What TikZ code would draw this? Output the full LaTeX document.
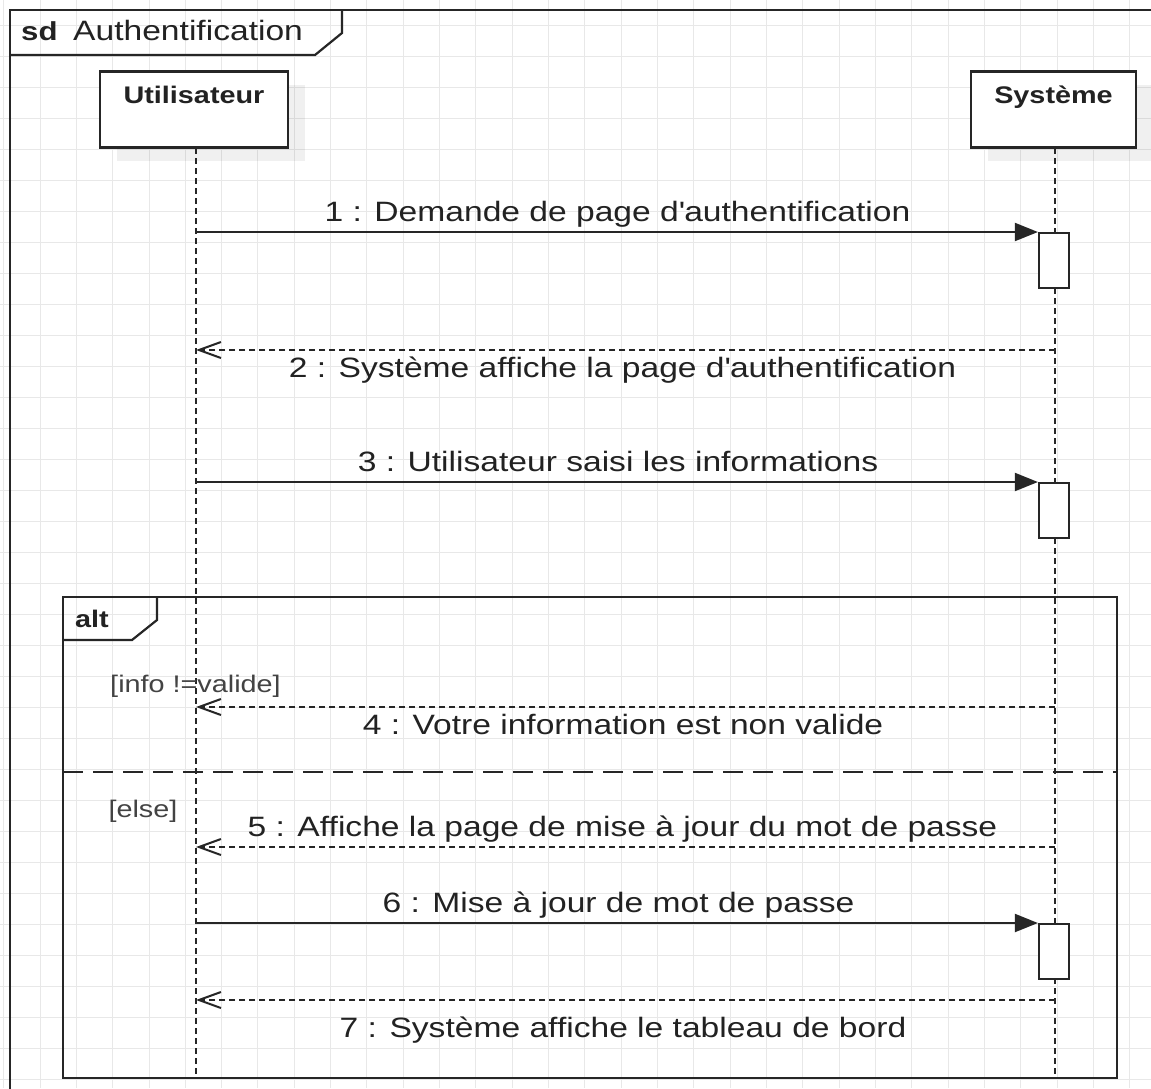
\documentclass[tikz,border=0pt]{standalone}
\usepackage{fontspec}
\setmainfont{Liberation Sans}[FakeStretch=1.2]
\usetikzlibrary{arrows.meta,shadows}
\definecolor{gridc}{HTML}{E8E8E8}
\definecolor{ink}{HTML}{222222}
\definecolor{linec}{HTML}{262626}
\tikzset{
  gridline/.style={draw=gridc, line width=0.9pt},
  frameline/.style={draw=linec, line width=2.2pt},
  participant/.style={draw=linec, line width=2.2pt, fill=white, minimum height=76pt, inner sep=0pt,
    drop shadow={shadow xshift=17pt, shadow yshift=-13pt, fill=black, opacity=0.06}},
  pname/.style={font=\fontsize{24}{28}\selectfont\bfseries, text=ink, anchor=base, inner sep=0pt},
  activation/.style={draw=linec, line width=2.2pt, fill=white, minimum width=30pt, minimum height=55pt, inner sep=0pt, anchor=north},
  lifeline/.style={draw=linec, line width=2.4pt, dash pattern=on 6pt off 4pt},
  syncmsg/.style={draw=linec, line width=2pt, -{Triangle[length=23pt, width=18pt]}},
  replymsg/.style={draw=linec, line width=2pt, dash pattern=on 6pt off 4pt, -{Straight Barb[length=22pt, width=16pt, line width=2pt]}},
  msgtext/.style={font=\fontsize{28}{32}\selectfont, text=ink, anchor=base, inner sep=0pt},
  guardtext/.style={font=\fontsize{24}{28}\selectfont, text=ink!85, anchor=base, inner sep=0pt},
  separator/.style={draw=linec, line width=2.2pt, dash pattern=on 20pt off 10pt},
}
\begin{document}
\begin{tikzpicture}[x=1pt,y=-1pt]
\useasboundingbox (0,0) rectangle (1151,1088);
\clip (0,0) rectangle (1151,1088);
\fill[white] (0,0) rectangle (1151,1088);
% grid
\foreach \i in {0,...,32} \draw[gridline] (3.7+\i*36.32,0) -- (3.7+\i*36.32,1088);
\foreach \j in {-1,...,35} \draw[gridline] (0,25+\j*31) -- (1151,25+\j*31);
% outer sd frame
\draw[frameline] (10,1120) -- (10,10) -- (1200,10);
\draw[frameline] (10,55) -- (315,55) -- (342,33) -- (342,10);
\node[font=\fontsize{26}{30}\selectfont\bfseries, text=ink, anchor=base west, inner sep=0pt] (sdkw) at (21,40) {sd};
\node[font=\fontsize{28}{32}\selectfont, text=ink, anchor=base west, inner sep=0pt] (sdname) at (73,40) {Authentification};
% participants
\node[participant, minimum width=188pt] (u) at (194,109.5) {};
\node[pname] (uname) at (194,103) {Utilisateur};
\node[participant, minimum width=165pt] (s) at (1053.5,109.5) {};
\node[pname] (sname) at (1053.5,103) {Système};
% alt frame
\draw[frameline] (63,597) rectangle (1117,1078);
\draw[frameline] (63,640) -- (132,640) -- (157,620) -- (157,597);
\node[font=\fontsize{24}{28}\selectfont\bfseries, text=ink, anchor=base west, inner sep=0pt] (altkw) at (75,627) {alt};
\draw[separator] (63,772) -- (1117,772);
% lifelines
\coordinate (uend) at (196,1074);
\coordinate (send) at (1055,1074);
\draw[lifeline] (196,148) -- (uend);
\draw[lifeline] (1055,148) -- (send);
% activations
\node[activation] (a1) at (1054,232) {};
\node[activation] (a3) at (1054,482) {};
\node[activation] (a6) at (1054,923) {};
% lifeline points for messages
\coordinate (u1) at (196,232);
\coordinate (u2) at (196,350);
\coordinate (s2) at (1055,350);
\coordinate (u3) at (196,482);
\coordinate (u4) at (196,707);
\coordinate (s4) at (1055,707);
\coordinate (u5) at (196,847);
\coordinate (s5) at (1055,847);
\coordinate (u6) at (196,923);
\coordinate (u7) at (196,1000);
\coordinate (s7) at (1055,1000);
% messages
\draw[syncmsg] (u1) -- (a1.north west);
\node[msgtext] (m1) at (617.5,221.7) {1 : Demande de page d\textquotesingle authentification};
\draw[replymsg] (s2) -- (u2);
\node[msgtext] (m2) at (622.5,377) {2 : Système affiche la page d\textquotesingle authentification};
\draw[syncmsg] (u3) -- (a3.north west);
\node[msgtext] (m3) at (618,471.5) {3 : Utilisateur saisi les informations};
\node[guardtext] (g1) at (195.5,692) {[info !=valide]};
\draw[replymsg] (s4) -- (u4);
\node[msgtext] (m4) at (623,734) {4 : Votre information est non valide};
\node[guardtext] (g2) at (143,817) {[else]};
\draw[replymsg] (s5) -- (u5);
\node[msgtext] (m5) at (622.5,836) {5 : Affiche la page de mise à jour du mot de passe};
\draw[syncmsg] (u6) -- (a6.north west);
\node[msgtext] (m6) at (618.5,912.5) {6 : Mise à jour de mot de passe};
\draw[replymsg] (s7) -- (u7);
\node[msgtext] (m7) at (623,1037) {7 : Système affiche le tableau de bord};
\end{tikzpicture}
\end{document}
